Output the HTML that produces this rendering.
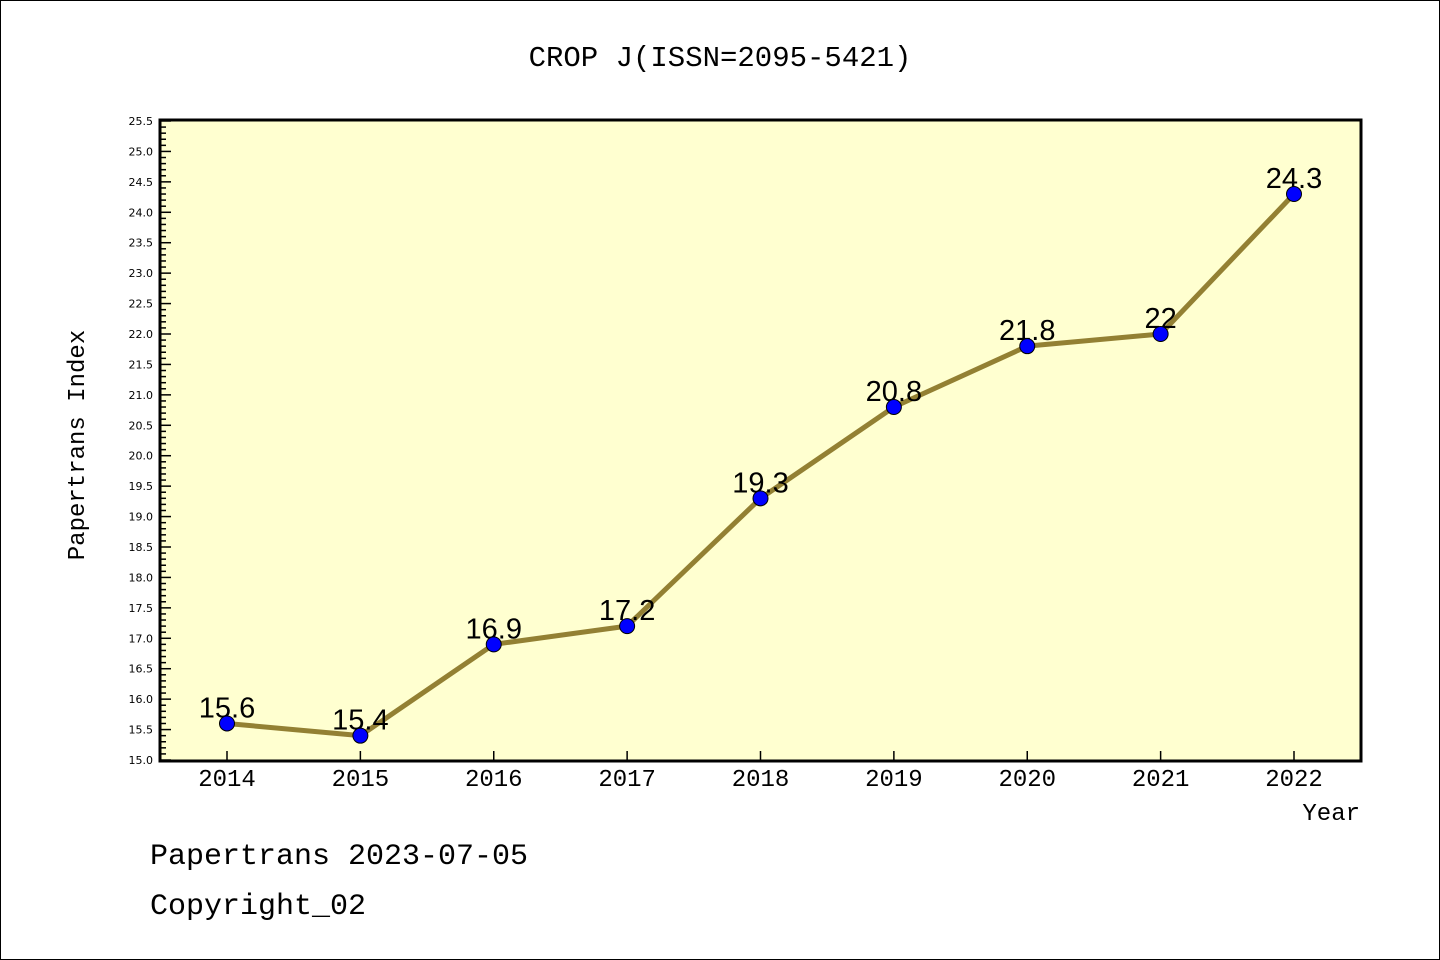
<!DOCTYPE html>
<html><head><meta charset="utf-8"><style>
html,body{margin:0;padding:0;background:#fff;}
svg{display:block;}
</style></head><body>
<svg id="chart" width="1440" height="960" xmlns="http://www.w3.org/2000/svg">
<rect x="0.5" y="0.5" width="1439" height="959" fill="#fff" stroke="#000"/>
<text x="720" y="66" text-anchor="middle" font-family="Liberation Mono, monospace" font-size="29">CROP J(ISSN=2095-5421)</text>
<rect x="160" y="120" width="1201" height="641" fill="#ffffd0"/>
<g id="yaxis"></g>
<g id="xaxis"></g>
<g id="series"></g>
<rect x="160" y="120" width="1201" height="641" fill="none" stroke="#000" stroke-width="3"/>
<text transform="translate(84,445) rotate(-90)" text-anchor="middle" font-family="Liberation Mono, monospace" font-size="24">Papertrans Index</text>
<text x="1360" y="820" text-anchor="end" font-family="Liberation Mono, monospace" font-size="24">Year</text>
<text x="150" y="864" font-family="Liberation Mono, monospace" font-size="30">Papertrans 2023-07-05</text>
<text x="150" y="914" font-family="Liberation Mono, monospace" font-size="30">Copyright_02</text>
</svg>
<script>
const categories = ["2014","2015","2016","2017","2018","2019","2020","2021","2022"];
const values = [15.6, 15.4, 16.9, 17.2, 19.3, 20.8, 21.8, 22, 24.3];
const valueLabels = ["15.6","15.4","16.9","17.2","19.3","20.8","21.8","22","24.3"];
const yTickLabels = ["15.0","15.5","16.0","16.5","17.0","17.5","18.0","18.5","19.0","19.5","20.0","20.5","21.0","21.5","22.0","22.5","23.0","23.5","24.0","24.5","25.0","25.5"];
const yMin = 15.0, yMax = 25.5;
const NS = "http://www.w3.org/2000/svg";
function y(v){ return 760 - (v - yMin) / (yMax - yMin) * 639; }
function x(i){ return 227 + i * (1294 - 227) / (categories.length - 1); }
function mk(tag, attrs, parent){ const e = document.createElementNS(NS, tag); for (const k in attrs) e.setAttribute(k, attrs[k]); parent.appendChild(e); return e; }
const ya = document.getElementById('yaxis');
for (let v = yMin; v <= yMax + 1e-9; v += 0.1) {
  const vv = Math.round(v*10)/10;
  const major = Math.abs(vv*2 - Math.round(vv*2)) < 1e-6;
  const t = mk('line', {x1:160, x2:160 + (major ? 11 : 6), y1:y(vv), y2:y(vv), stroke:'#000', 'stroke-width':1.5}, ya);
  
  
}
yTickLabels.forEach(function(l){
  const t = mk('text', {x:153, y:y(parseFloat(l))+4, 'text-anchor':'end', 'font-family':'DejaVu Sans, sans-serif', 'font-size':11}, ya);
  t.textContent = l;
  
  
});
const xa = document.getElementById('xaxis');
categories.forEach(function(c, i){
  const t = mk('line', {x1:x(i), x2:x(i), y1:761, y2:751, stroke:'#000', 'stroke-width':1.5}, xa);
  
  
  const l = mk('text', {x:x(i), y:786, 'text-anchor':'middle', 'font-family':'Liberation Mono, monospace', 'font-size':24}, xa);
  l.textContent = c;
  
  
});
const s = document.getElementById('series');
const line = mk('polyline', {points: values.map(function(v,i){ return x(i)+','+y(v); }).join(' '), fill:'none', stroke:'#938033', 'stroke-width':5, 'stroke-linejoin':'round'}, s);


values.forEach(function(v, i){
  const lb = mk('text', {x:x(i), y:y(v)-6, 'text-anchor':'middle', 'font-family':'Liberation Sans, sans-serif', 'font-size':29}, s);
  lb.textContent = valueLabels[i];
  
  
});
values.forEach(function(v, i){
  const p = mk('circle', {cx:x(i), cy:y(v), r:7.5, fill:'#0000ff', stroke:'#000', 'stroke-width':1}, s);
  
  
});
</script>
</body></html>
